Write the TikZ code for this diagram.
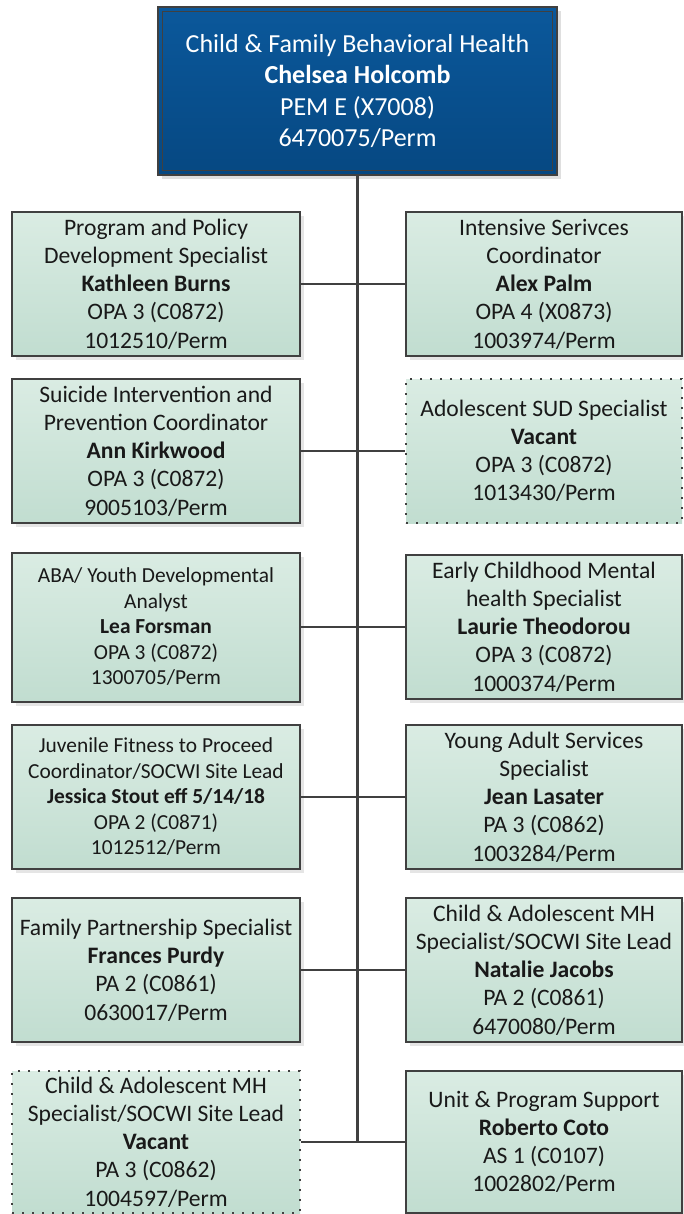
\documentclass[tikz,border=0pt]{standalone}
\usepackage{fontspec}
\setmainfont{Carlito}
\usetikzlibrary{shadows}
\definecolor{gtop}{HTML}{DAECE3}
\definecolor{gbot}{HTML}{C1DDD0}
\definecolor{btop}{HTML}{0B589B}
\definecolor{bbot}{HTML}{064882}
\definecolor{edgec}{HTML}{404040}
\newcommand\bigtxt{\fontsize{23.6}{28.2}\selectfont}
\newcommand\smtxt{\fontsize{21.4}{25.5}\selectfont}
\newcommand\toptxt{\fontsize{26}{31.3}\selectfont}
\tikzset{
  boxbase/.style={rectangle, inner sep=0pt, align=center, text=black!90,
    top color=gtop, bottom color=gbot, font=\bigtxt},
  gbox/.style={boxbase, draw=edgec, line width=2pt,
    drop shadow={shadow xshift=4pt, shadow yshift=-4pt, opacity=0.2}},
  dotbox/.style={boxbase, draw=edgec, line width=1.8pt, dash pattern=on 1.8pt off 8.2pt},
  leftcol/.style={minimum width=288pt},
  rightcol/.style={minimum width=276pt},
  topbox/.style={rectangle, inner sep=0pt, align=center, text=white, font=\toptxt,
    top color=btop, bottom color=bbot, draw=edgec, line width=2.5pt,
    drop shadow={shadow xshift=4pt, shadow yshift=-4pt, opacity=0.25}},
  conn/.style={draw=edgec, line width=2.4pt},
  trunk/.style={draw=edgec, line width=3.2pt}
}
\begin{document}
\begin{tikzpicture}[x=1pt, y=-1pt]
\useasboundingbox (0,0) rectangle (683,1214);
\fill[white] (0,0) rectangle (683,1214);

% top box
\node[topbox, minimum width=399pt, minimum height=168pt] (top) at (357.5,91)
  {Child \& Family Behavioral Health\\\textbf{Chelsea Holcomb}\\PEM E (X7008)\\6470075/Perm};
\draw[line width=1pt, black!75] ([xshift=6pt,yshift=-6pt]top.north west) rectangle ([xshift=-6pt,yshift=6pt]top.south east);

% left column
\node[gbox, leftcol, minimum height=144pt] (L1) at (156,284)
  {Program and Policy\\Development Specialist\\\textbf{Kathleen Burns}\\OPA 3 (C0872)\\1012510/Perm};
\node[gbox, leftcol, minimum height=144pt] (L2) at (156,451)
  {Suicide Intervention and\\Prevention Coordinator\\\textbf{Ann Kirkwood}\\OPA 3 (C0872)\\9005103/Perm};
\node[gbox, leftcol, minimum height=149pt, font=\smtxt] (L3) at (156,627)
  {ABA/ Youth Developmental\\Analyst\\\textbf{Lea Forsman}\\OPA 3 (C0872)\\1300705/Perm};
\node[gbox, leftcol, minimum height=144pt, font=\smtxt] (L4) at (156,797)
  {Juvenile Fitness to Proceed\\Coordinator/SOCWI Site Lead\\\textbf{Jessica Stout eff 5/14/18}\\OPA 2 (C0871)\\1012512/Perm};
\node[gbox, leftcol, minimum height=144pt] (L5) at (156,970)
  {Family Partnership Specialist\\\textbf{Frances Purdy}\\PA 2 (C0861)\\0630017/Perm};
\node[dotbox, leftcol, minimum height=142pt] (L6) at (156,1142)
  {Child \& Adolescent MH\\Specialist/SOCWI Site Lead\\\textbf{Vacant}\\PA 3 (C0862)\\1004597/Perm};

% right column
\node[gbox, rightcol, minimum height=144pt] (R1) at (544,284)
  {Intensive Serivces\\Coordinator\\\textbf{Alex Palm}\\OPA 4 (X0873)\\1003974/Perm};
\node[dotbox, rightcol, minimum height=144pt] (R2) at (544,451)
  {Adolescent SUD Specialist\\\textbf{Vacant}\\OPA 3 (C0872)\\1013430/Perm};
\node[gbox, rightcol, minimum height=144pt] (R3) at (544,627)
  {Early Childhood Mental\\health Specialist\\\textbf{Laurie Theodorou}\\OPA 3 (C0872)\\1000374/Perm};
\node[gbox, rightcol, minimum height=144pt] (R4) at (544,797)
  {Young Adult Services\\Specialist\\\textbf{Jean Lasater}\\PA 3 (C0862)\\1003284/Perm};
\node[gbox, rightcol, minimum height=144pt] (R5) at (544,970)
  {Child \& Adolescent MH\\Specialist/SOCWI Site Lead\\\textbf{Natalie Jacobs}\\PA 2 (C0861)\\6470080/Perm};
\node[gbox, rightcol, minimum height=142pt] (R6) at (544,1142)
  {Unit \& Program Support\\\textbf{Roberto Coto}\\AS 1 (C0107)\\1002802/Perm};

% connectors
\foreach \r in {1,...,6} { \draw[conn] (L\r.east) -- (R\r.west); }
\draw[trunk] (top.south) -- (top.south |- L6.east);
\end{tikzpicture}
\end{document}
